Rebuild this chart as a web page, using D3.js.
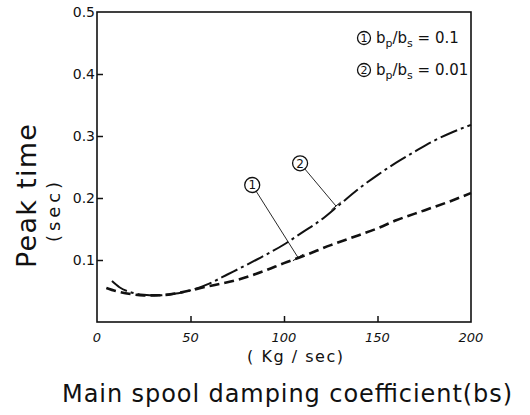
<!DOCTYPE html>
<html>
<head>
<meta charset="utf-8">
<script src="https://cdn.jsdelivr.net/npm/d3@7"></script>
<style>
  body { margin: 0; background: #fff; }
  svg { display: block; }
  text { font-family: 'DejaVu Sans', sans-serif; fill: #111; }
</style>
</head>
<body>
<div id="chart"></div>
<script>
(function() {

  // curve 2 : b_p/b_s = 0.01 (dash-dot, upper)
  const xDashDot = [8, 12, 18, 25, 32, 40, 50, 60, 70, 85, 100, 110, 120, 130, 140, 150, 160, 170, 180, 190, 200];
  const yDashDot = [0.066, 0.056, 0.048, 0.044, 0.043, 0.045, 0.051, 0.062, 0.077, 0.1, 0.125, 0.145, 0.165, 0.19, 0.215, 0.237, 0.257, 0.275, 0.292, 0.306, 0.318];

  // curve 1 : b_p/b_s = 0.1 (dashed, lower)
  const xDashed = [5, 10, 18, 25, 32, 40, 50, 60, 75, 90, 100, 110, 125, 140, 150, 160, 175, 190, 200];
  const yDashed = [0.055, 0.05, 0.045, 0.043, 0.043, 0.045, 0.051, 0.058, 0.068, 0.083, 0.095, 0.106, 0.124, 0.14, 0.151, 0.164, 0.18, 0.196, 0.208];

  const xTicks = [0, 50, 100, 150, 200];
  const yTicks = [0.1, 0.2, 0.3, 0.4, 0.5];
  const legendLabels = [['1', '0.1'], ['2', '0.01']];

  // label circles: [number, circle x, circle y, leader end x, leader end y] in data units
  const callouts = [['1', 83, 0.221, 107.5, 0.104], ['2', 108.6, 0.256, 127.8, 0.187]];

  const width = 530, height = 415;
  const plot = { left: 97, right: 471, top: 12, bottom: 322 };

  const svg = d3.select('#chart')
    .append('svg')
    .attr('width', width)
    .attr('height', height);

  const x = d3.scaleLinear().domain([0, 200]).range([plot.left, plot.right]);
  const y = d3.scaleLinear().domain([0, 0.5]).range([plot.bottom, plot.top]);

  // frame
  svg.append('rect')
    .attr('x', plot.left)
    .attr('y', plot.top)
    .attr('width', plot.right - plot.left)
    .attr('height', plot.bottom - plot.top)
    .attr('fill', 'none')
    .attr('stroke', '#111')
    .attr('stroke-width', 1.6);

  // ticks pointing inward
  const xAxis = svg.append('g')
    .attr('transform', `translate(0, ${plot.bottom})`)
    .call(d3.axisTop(x).tickValues(xTicks.slice(1, -1)).tickSize(6).tickFormat(''));
  xAxis.select('.domain').remove();
  xAxis.selectAll('line').attr('stroke', '#111').attr('stroke-width', 1.5);

  const yAxis = svg.append('g')
    .attr('transform', `translate(${plot.left}, 0)`)
    .call(d3.axisRight(y).tickValues(yTicks.slice(0, -1)).tickSize(6).tickFormat(''));
  yAxis.select('.domain').remove();
  yAxis.selectAll('line').attr('stroke', '#111').attr('stroke-width', 1.5);

  svg.selectAll('.xlab')
    .data(xTicks)
    .enter()
    .append('text')
      .attr('class', 'xlab')
      .attr('x', d => x(d))
      .attr('y', plot.bottom + 20)
      .attr('text-anchor', 'middle')
      .style('font-size', '13px')
      .style('font-style', 'italic')
      .text(d => d);

  svg.selectAll('.ylab')
    .data(yTicks)
    .enter()
    .append('text')
      .attr('class', 'ylab')
      .attr('x', plot.left - 2)
      .attr('y', d => y(d) + 5)
      .attr('text-anchor', 'end')
      .style('font-size', '14px')
      .text(d => d.toFixed(1));

  // curves
  const line = d3.line()
    .x(d => x(d[0]))
    .y(d => y(d[1]))
    .curve(d3.curveMonotoneX);

  svg.append('path')
    .datum(d3.zip(xDashDot, yDashDot))
    .attr('d', line)
    .attr('fill', 'none')
    .attr('stroke', '#111')
    .attr('stroke-width', 2)
    .attr('stroke-dasharray', '18,4,3,4');

  svg.append('path')
    .datum(d3.zip(xDashed, yDashed))
    .attr('d', line)
    .attr('fill', 'none')
    .attr('stroke', '#111')
    .attr('stroke-width', 2.6)
    .attr('stroke-dasharray', '10,5');

  // callouts
  const r = 7.5;
  callouts.forEach(c => {
    const cx = x(c[1]), cy = y(c[2]);
    const ex = x(c[3]), ey = y(c[4]);
    const ang = Math.atan2(ey - cy, ex - cx);
    svg.append('circle')
      .attr('cx', cx).attr('cy', cy).attr('r', r)
      .attr('fill', 'none').attr('stroke', '#111').attr('stroke-width', 1.3);
    svg.append('text')
      .attr('x', cx).attr('y', cy + 4.5)
      .attr('text-anchor', 'middle')
      .style('font-size', '12px')
      .text(c[0]);
    svg.append('line')
      .attr('x1', cx + r * Math.cos(ang)).attr('y1', cy + r * Math.sin(ang))
      .attr('x2', ex).attr('y2', ey)
      .attr('stroke', '#111').attr('stroke-width', 0.9);
    const px = -Math.sin(ang) * 6, py = Math.cos(ang) * 6;
    svg.append('line')
      .attr('x1', ex - px).attr('y1', ey - py)
      .attr('x2', ex + px).attr('y2', ey + py)
      .attr('stroke', '#111').attr('stroke-width', 1);
  });

  // legend
  legendLabels.forEach((d, i) => {
    const ly = 40 + i * 32;
    svg.append('circle')
      .attr('cx', 364).attr('cy', ly - 2).attr('r', 6.5)
      .attr('fill', 'none').attr('stroke', '#111').attr('stroke-width', 1.3);
    svg.append('text')
      .attr('x', 364).attr('y', ly + 2)
      .attr('text-anchor', 'middle')
      .style('font-size', '11px')
      .text(d[0]);
    const t = svg.append('text')
      .attr('x', 376).attr('y', ly + 3)
      .style('font-size', '15px');
    t.append('tspan').text('b');
    t.append('tspan').attr('dy', 4).style('font-size', '11px').text('p');
    t.append('tspan').attr('dy', -4).text('/b');
    t.append('tspan').attr('dy', 4).style('font-size', '11px').text('s');
    t.append('tspan').attr('dy', -4).text(' = ' + d[1]);
  });

  // axis titles
  svg.append('text')
    .attr('transform', 'translate(36, 268) rotate(-90)')
    .attr('textLength', 144)
    .style('font-size', '27px')
    .text('Peak  time');

  svg.append('text')
    .attr('transform', 'translate(60, 242) rotate(-90)')
    .attr('textLength', 60)
    .style('font-size', '18px')
    .text('(sec)');

  svg.append('text')
    .attr('x', 247)
    .attr('y', 362)
    .attr('textLength', 96)
    .style('font-size', '16px')
    .text('( Kg / sec)');

  svg.append('text')
    .attr('x', 62)
    .attr('y', 402)
    .attr('textLength', 450)
    .style('font-size', '24px')
    .text('Main spool damping coefficient(bs)');

}());
</script>
</body>
</html>
